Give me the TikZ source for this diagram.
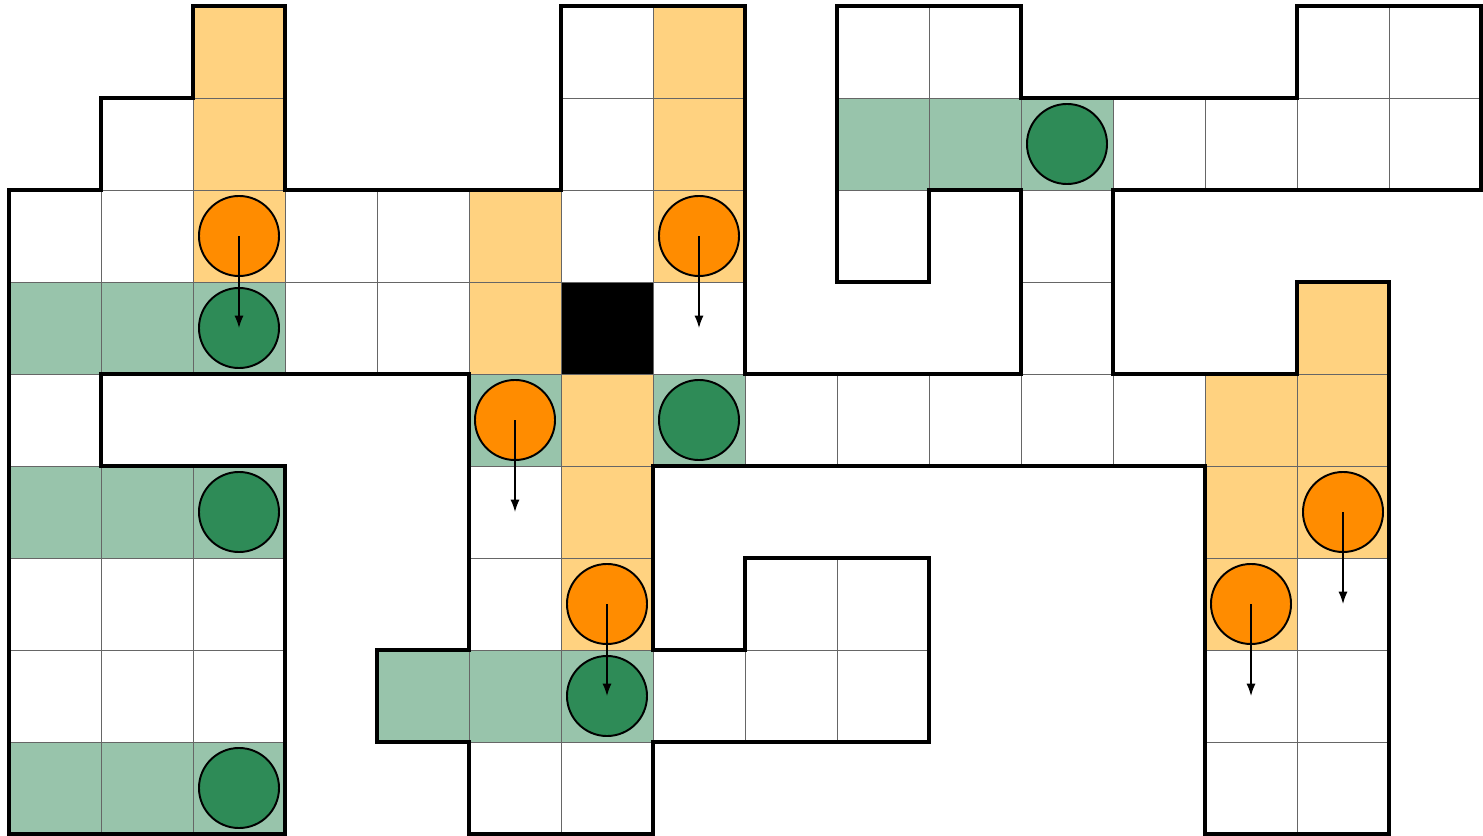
\documentclass[tikz,border=0pt]{standalone}
\usetikzlibrary{arrows.meta}
\definecolor{cellorange}{HTML}{FFD280}
\definecolor{cellgreen}{HTML}{98C4AB}
\definecolor{dotorange}{HTML}{FF8C00}
\definecolor{dotgreen}{HTML}{2E8B57}
\begin{document}
\begin{tikzpicture}[x=1cm,y=-1cm,
  gridcell/.style={draw=black!60,line width=0.3pt},
  outline/.style={draw=black,line width=1.05pt,line join=miter},
  dot/.style={circle,draw=black,line width=0.6pt,minimum size=0.87cm,inner sep=0pt},
  orangedot/.style={dot,fill=dotorange},
  greendot/.style={dot,fill=dotgreen},
  movearrow/.style={draw=black,line width=0.45pt,-{Latex[length=3.8pt,width=2.8pt]}}]
\useasboundingbox (-0.0978,-0.0652) rectangle (16.0217,9.0217);
% white cells
\foreach \c/\r in {6/0,9/0,10/0,14/0,15/0,
  1/1,6/1,12/1,13/1,14/1,15/1,
  0/2,1/2,3/2,4/2,6/2,9/2,11/2,
  3/3,4/3,7/3,11/3,
  0/4,8/4,9/4,10/4,11/4,12/4,
  5/5,
  0/6,1/6,2/6,5/6,8/6,9/6,14/6,
  0/7,1/7,2/7,7/7,8/7,9/7,13/7,14/7,
  5/8,6/8,13/8,14/8}
  \draw[gridcell,fill=white] (\c,\r) rectangle ++(1,1);
% orange cells
\foreach \c/\r in {2/0,7/0,2/1,7/1,2/2,5/2,7/2,5/3,14/3,6/4,13/4,14/4,6/5,13/5,14/5,6/6,13/6}
  \draw[gridcell,fill=cellorange] (\c,\r) rectangle ++(1,1);
% green cells
\foreach \c/\r in {9/1,10/1,11/1,0/3,1/3,2/3,5/4,7/4,0/5,1/5,2/5,4/7,5/7,6/7,0/8,1/8,2/8}
  \draw[gridcell,fill=cellgreen] (\c,\r) rectangle ++(1,1);
% black cell
\draw[gridcell,fill=black] (6,3) rectangle ++(1,1);
% outline
\draw[outline] (9,0) -- (11,0) -- (11,1) -- (14,1) -- (14,0) -- (16,0) -- (16,2) -- (12,2) -- (12,4)
  -- (14,4) -- (14,3) -- (15,3) -- (15,9) -- (13,9) -- (13,5) -- (7,5) -- (7,7) -- (8,7) -- (8,6)
  -- (10,6) -- (10,8) -- (7,8) -- (7,9) -- (5,9) -- (5,8) -- (4,8) -- (4,7) -- (5,7) -- (5,4)
  -- (1,4) -- (1,5) -- (3,5) -- (3,9) -- (0,9) -- (0,2) -- (1,2) -- (1,1) -- (2,1) -- (2,0)
  -- (3,0) -- (3,2) -- (6,2) -- (6,0) -- (8,0) -- (8,4) -- (11,4) -- (11,2) -- (10,2) -- (10,3)
  -- (9,3) -- cycle;
% green dots
\node[greendot] (g1) at (11.5,1.5) {};
\node[greendot] (g2) at (2.5,3.5) {};
\node[greendot] (g3) at (7.5,4.5) {};
\node[greendot] (g4) at (2.5,5.5) {};
\node[greendot] (g5) at (6.5,7.5) {};
\node[greendot] (g6) at (2.5,8.5) {};
% orange dots
\node[orangedot] (o1) at (2.5,2.5) {};
\node[orangedot] (o2) at (7.5,2.5) {};
\node[orangedot] (o3) at (5.5,4.5) {};
\node[orangedot] (o4) at (14.5,5.5) {};
\node[orangedot] (o5) at (6.5,6.5) {};
\node[orangedot] (o6) at (13.5,6.5) {};
% arrow targets
\coordinate (t1) at (2.5,3.5);
\coordinate (t2) at (7.5,3.5);
\coordinate (t3) at (5.5,5.5);
\coordinate (t4) at (14.5,6.5);
\coordinate (t5) at (6.5,7.5);
\coordinate (t6) at (13.5,7.5);
\foreach \i in {1,...,6}
  \draw[movearrow] (o\i.center) -- (t\i);
\end{tikzpicture}
\end{document}
